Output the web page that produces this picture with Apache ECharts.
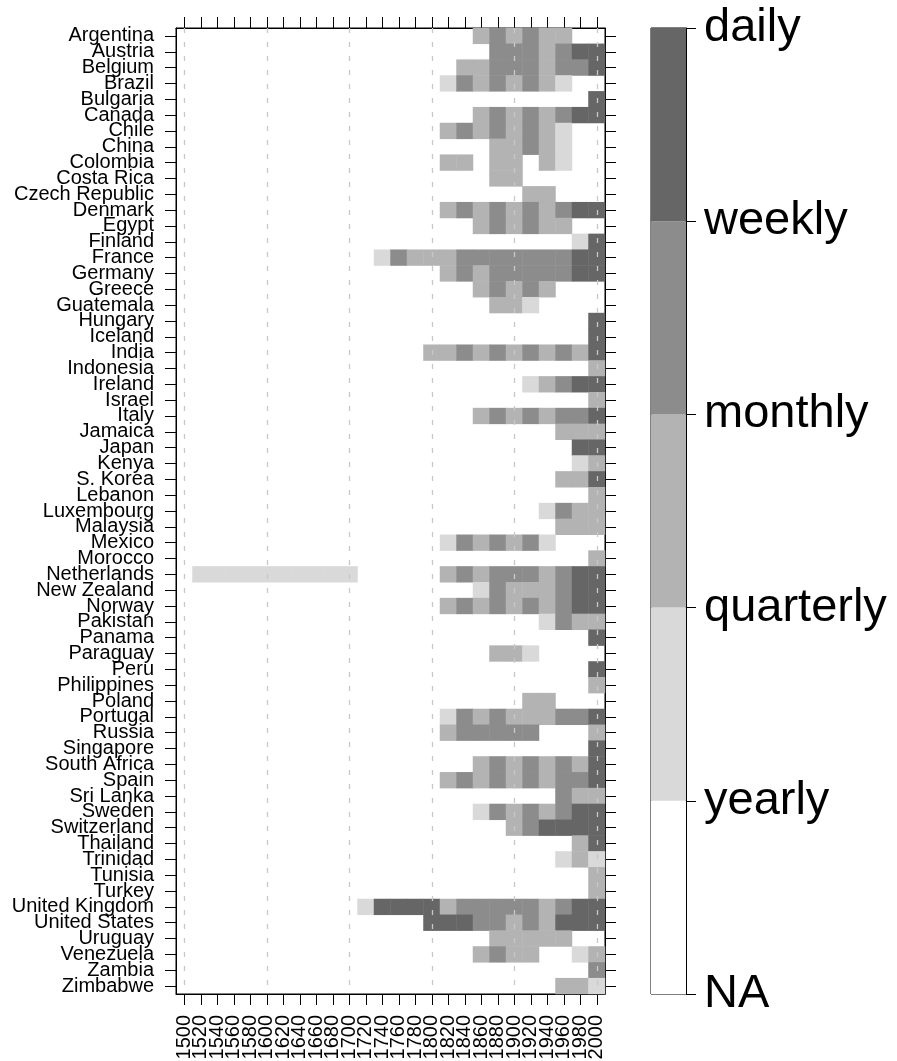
<!DOCTYPE html>
<html>
<head>
<meta charset="utf-8">
<script src="https://cdn.jsdelivr.net/npm/echarts@6/dist/echarts.min.js"></script>
<style>
  html, body { margin: 0; padding: 0; background: #ffffff; }
  #chart { width: 897px; height: 1061px; }
</style>
</head>
<body>
<div id="chart"></div>
<script>
// Countries, top to bottom
const countries = [
  'Argentina', 'Austria', 'Belgium', 'Brazil', 'Bulgaria', 'Canada', 'Chile', 'China',
  'Colombia', 'Costa Rica', 'Czech Republic', 'Denmark', 'Egypt', 'Finland', 'France',
  'Germany', 'Greece', 'Guatemala', 'Hungary', 'Iceland', 'India', 'Indonesia', 'Ireland',
  'Israel', 'Italy', 'Jamaica', 'Japan', 'Kenya', 'S. Korea', 'Lebanon', 'Luxembourg',
  'Malaysia', 'Mexico', 'Morocco', 'Netherlands', 'New Zealand', 'Norway', 'Pakistan',
  'Panama', 'Paraguay', 'Peru', 'Philippines', 'Poland', 'Portugal', 'Russia', 'Singapore',
  'South Africa', 'Spain', 'Sri Lanka', 'Sweden', 'Switzerland', 'Thailand', 'Trinidad',
  'Tunisia', 'Turkey', 'United Kingdom', 'United States', 'Uruguay', 'Venezuela', 'Zambia',
  'Zimbabwe'
];

// 20-year periods (tick labels of the time axis)
const periods = [
  '1500', '1520', '1540', '1560', '1580', '1600', '1620', '1640', '1660', '1680',
  '1700', '1720', '1740', '1760', '1780', '1800', '1820', '1840', '1860', '1880',
  '1900', '1920', '1940', '1960', '1980', '2000'
];

// First period with data for each country
const firstPeriod = [
  1860, 1880, 1840, 1820, 2000, 1860, 1820, 1880,
  1820, 1880, 1920, 1820, 1860, 1980, 1740,
  1820, 1860, 1880, 2000, 2000, 1800, 2000, 1920,
  2000, 1860, 1960, 1980, 1980, 1960, 2000, 1940,
  1960, 1820, 2000, 1520, 1860, 1820, 1940,
  2000, 1880, 2000, 2000, 1920, 1820, 1820, 2000,
  1860, 1820, 1960, 1860, 1900, 1980, 1960,
  2000, 2000, 1720, 1800, 1880, 1860, 2000,
  1960
];

// Sampling frequency per period from firstPeriod on:
// 0 = none, 1 = yearly, 2 = quarterly, 3 = monthly, 4 = weekly/daily
const frequencyRuns = [
  [2, 3, 2, 3, 2, 2],                              // Argentina
  [3, 3, 3, 2, 3, 4, 4],                           // Austria
  [2, 2, 3, 3, 3, 2, 3, 3, 4],                     // Belgium
  [1, 3, 2, 3, 2, 3, 2, 1],                        // Brazil
  [4],                                             // Bulgaria
  [2, 3, 2, 3, 2, 3, 4, 4],                        // Canada
  [2, 3, 2, 3, 2, 3, 2, 1],                        // Chile
  [2, 2, 3, 2, 1],                                 // China
  [2, 2, 0, 2, 2, 0, 2, 1],                        // Colombia
  [2, 2],                                          // Costa Rica
  [2, 2],                                          // Czech Republic
  [2, 3, 2, 3, 2, 3, 2, 3, 4, 4],                  // Denmark
  [2, 3, 2, 3, 2, 2],                              // Egypt
  [1, 4],                                          // Finland
  [1, 3, 2, 2, 2, 3, 3, 3, 3, 3, 3, 3, 4, 4],      // France
  [2, 3, 2, 3, 3, 3, 3, 3, 4, 4],                  // Germany
  [2, 3, 2, 3, 2],                                 // Greece
  [2, 2, 1],                                       // Guatemala
  [4],                                             // Hungary
  [4],                                             // Iceland
  [2, 2, 3, 2, 3, 2, 3, 2, 3, 2, 4],               // India
  [2],                                             // Indonesia
  [1, 2, 3, 4, 4],                                 // Ireland
  [2],                                             // Israel
  [2, 3, 2, 3, 2, 3, 3, 4],                        // Italy
  [2, 2, 2],                                       // Jamaica
  [4, 4],                                          // Japan
  [1, 2],                                          // Kenya
  [2, 2, 4],                                       // S. Korea
  [2],                                             // Lebanon
  [1, 3, 2, 2],                                    // Luxembourg
  [2, 2, 2],                                       // Malaysia
  [1, 3, 2, 3, 2, 3, 1],                           // Mexico
  [2],                                             // Morocco
  [1, 1, 1, 1, 1, 1, 1, 1, 1, 1, 0, 0, 0, 0, 0,
   2, 3, 2, 3, 3, 3, 2, 3, 4, 4],                  // Netherlands
  [1, 3, 2, 2, 2, 3, 4, 4],                        // New Zealand
  [2, 3, 2, 3, 2, 3, 2, 3, 4, 4],                  // Norway
  [1, 3, 2, 2],                                    // Pakistan
  [4],                                             // Panama
  [2, 2, 1],                                       // Paraguay
  [4],                                             // Peru
  [2],                                             // Philippines
  [2, 2],                                          // Poland
  [1, 3, 2, 3, 2, 2, 2, 3, 3, 4],                  // Portugal
  [2, 3, 3, 3, 3, 3, 0, 0, 0, 2],                  // Russia
  [4],                                             // Singapore
  [2, 3, 2, 3, 2, 3, 2, 4],                        // South Africa
  [2, 3, 2, 3, 2, 3, 2, 3, 3, 4],                  // Spain
  [3, 2, 2],                                       // Sri Lanka
  [1, 3, 2, 3, 2, 3, 4, 4],                        // Sweden
  [2, 3, 4, 4, 4, 4],                              // Switzerland
  [2, 4],                                          // Thailand
  [1, 2, 1],                                       // Trinidad
  [2],                                             // Tunisia
  [2],                                             // Turkey
  [1, 4, 4, 4, 4, 2, 3, 3, 3, 3, 3, 2, 3, 4, 4],   // United Kingdom
  [4, 4, 4, 3, 3, 2, 3, 2, 4, 4, 4],               // United States
  [2, 2, 2, 2, 2],                                 // Uruguay
  [2, 3, 2, 2, 0, 0, 1, 2],                        // Venezuela
  [3],                                             // Zambia
  [2, 2, 1]                                        // Zimbabwe
];

// Dashed guide lines every century
const guidePeriods = ['1500', '1600', '1700', '1800', '1900', '2000'];

// Colour key: boundary labels and the shade of each band between them
const keyLabels = ['NA', 'yearly', 'quarterly', 'monthly', 'weekly', 'daily'];
const keyColors = ['#ffffff', '#d9d9d9', '#b3b3b3', '#8c8c8c', '#666666'];

const FONT = '"Liberation Sans", Arial, Helvetica, sans-serif';

// Heatmap cells: [period index, country index, frequency level]
const cells = [];
countries.forEach((name, row) => {
  const start = periods.indexOf(String(firstPeriod[row]));
  frequencyRuns[row].forEach((level, k) => {
    if (level > 0) cells.push([start + k, row, level]);
  });
});

const tickStyle = { show: true, length: 11, inside: false, alignWithLabel: true, interval: 0,
                    lineStyle: { color: '#000', width: 1 } };
const lineStyle = { show: true, onZero: false, lineStyle: { color: '#000', width: 1 } };

const chart = echarts.init(document.getElementById('chart'), null, { renderer: 'canvas' });

chart.setOption({
  animation: false,
  backgroundColor: '#ffffff',
  textStyle: { fontFamily: FONT, color: '#000' },
  grid: [
    { left: 176, top: 28, width: 429, height: 966, containLabel: false,
      outerBoundsMode: 'none', show: true, borderColor: '#000', borderWidth: 1,
      backgroundColor: 'transparent' },
    { left: 651, top: 28, width: 35, height: 966, containLabel: false,
      outerBoundsMode: 'none', show: true, borderColor: '#000', borderWidth: 1,
      backgroundColor: 'transparent' }
  ],
  xAxis: [
    { type: 'category', gridIndex: 0, position: 'bottom', data: periods,
      boundaryGap: true, axisLine: lineStyle, axisTick: tickStyle,
      axisLabel: { show: true, interval: 0, rotate: 90, margin: 21, fontSize: 20,
                   fontFamily: FONT, color: '#000' },
      splitLine: { show: false } },
    { type: 'category', gridIndex: 0, position: 'top', data: periods,
      boundaryGap: true, axisLine: lineStyle, axisTick: tickStyle,
      axisLabel: { show: false, interval: 0 }, splitLine: { show: false } },
    { type: 'category', gridIndex: 1, data: ['key'], boundaryGap: true,
      axisLine: { show: false }, axisTick: { show: false },
      axisLabel: { show: false }, splitLine: { show: false } }
  ],
  yAxis: [
    { type: 'category', gridIndex: 0, position: 'left', inverse: true, data: countries,
      boundaryGap: true, axisLine: lineStyle, axisTick: tickStyle,
      axisLabel: { show: true, interval: 0, margin: 22, fontSize: 20,
                   fontFamily: FONT, color: '#000' },
      splitLine: { show: false } },
    { type: 'category', gridIndex: 0, position: 'right', inverse: true, data: countries,
      boundaryGap: true, axisLine: lineStyle, axisTick: tickStyle,
      axisLabel: { show: false, interval: 0 }, splitLine: { show: false } },
    { type: 'value', gridIndex: 1, position: 'right', min: 0, max: keyLabels.length - 1,
      interval: 1,
      axisLine: lineStyle,
      axisTick: { show: true, length: 10, inside: false, lineStyle: { color: '#000', width: 1 } },
      axisLabel: { show: true, margin: 18, fontSize: 47, fontFamily: FONT, color: '#000',
                   showMinLabel: true, showMaxLabel: true,
                   formatter: v => keyLabels[Math.round(v)] },
      splitLine: { show: false } }
  ],
  visualMap: {
    type: 'piecewise',
    show: false,
    seriesIndex: 0,
    dimension: 2,
    pieces: keyColors.slice(1).map((c, i) => ({ value: i + 1, color: c }))
  },
  series: [
    {
      type: 'heatmap',
      xAxisIndex: 0,
      yAxisIndex: 0,
      data: cells,
      progressive: 0,
      itemStyle: { borderWidth: 0 },
      emphasis: { disabled: true },
      label: { show: false },
      markLine: {
        silent: true,
        symbol: ['none', 'none'],
        animation: false,
        label: { show: false },
        lineStyle: { color: '#c8c8c8', width: 1.3, type: [5, 9] },
        emphasis: { disabled: true },
        data: guidePeriods.map(p => ({ xAxis: periods.indexOf(p) }))
      }
    },
    ...keyColors.map(c => ({
      type: 'bar',
      xAxisIndex: 2,
      yAxisIndex: 2,
      stack: 'key',
      barWidth: '100%',
      silent: true,
      data: [1],
      itemStyle: { color: c, borderWidth: 0 }
    }))
  ]
});
</script>
</body>
</html>
